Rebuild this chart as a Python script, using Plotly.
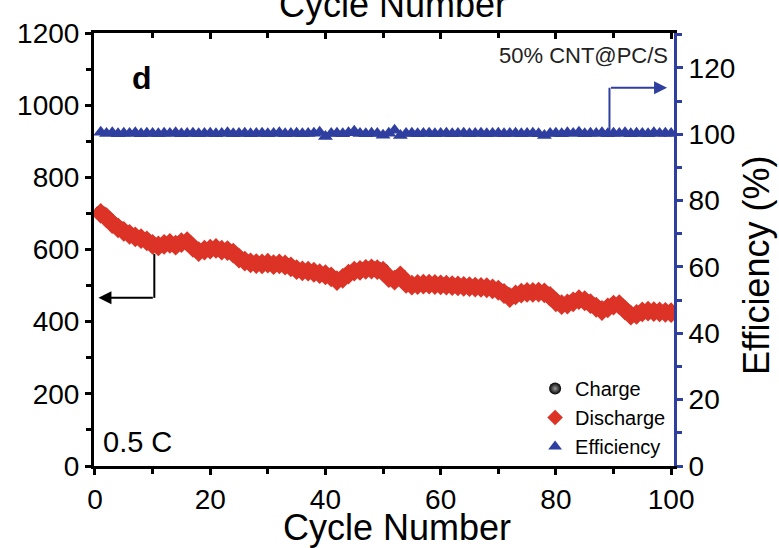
import plotly.graph_objects as go

cycles = list(range(1, 101))

discharge = [700, 688, 672, 660, 650, 642, 635, 630, 624, 614,
             610, 614, 617, 612, 619, 622, 606, 594, 598, 601,
             603, 598, 597, 590, 576, 568, 563, 561, 560, 562,
             558, 560, 557, 552, 544, 541, 540, 537, 533, 530,
             524, 514, 520, 532, 540, 542, 545, 546, 544, 540,
             522, 515, 527, 506, 501, 503, 504, 504, 503, 502,
             501, 500, 499, 498, 497, 496, 495, 494, 491, 487,
             478, 467, 474, 479, 481, 481, 482, 480, 470, 455,
             447, 449, 455, 461, 458, 450, 440, 431, 438, 446,
             447, 432, 418, 420, 427, 429, 428, 427, 426, 425]

charge = [704, 691, 675, 664, 653, 645, 638, 633, 627, 617,
          613, 617, 620, 615, 622, 625, 609, 597, 601, 604,
          606, 601, 600, 593, 579, 571, 566, 564, 563, 565,
          561, 563, 560, 555, 547, 544, 543, 540, 536, 533,
          527, 517, 523, 535, 543, 546, 549, 551, 549, 544,
          525, 518, 530, 509, 504, 506, 507, 507, 506, 505,
          504, 503, 502, 501, 500, 499, 498, 497, 494, 491,
          482, 470, 477, 482, 484, 484, 485, 483, 473, 458,
          450, 452, 458, 464, 461, 453, 443, 434, 441, 449,
          450, 435, 421, 423, 430, 432, 431, 430, 429, 428]

efficiency = [100.6, 100.2, 100.4, 100.1, 100.3, 100.2, 100.4, 100.1, 100.3, 100.2,
              100.1, 100.3, 100.2, 100.4, 100.1, 100.2, 100.3, 100.1, 100.2, 100.3,
              100.1, 100.2, 100.4, 100.1, 100.2, 100.3, 100.1, 100.2, 100.3, 100.1,
              100.2, 100.4, 100.1, 100.2, 100.3, 100.1, 100.2, 100.3, 100.6, 99.3,
              100.2, 100.3, 100.1, 100.4, 100.9, 100.2, 100.1, 100.3, 100.2, 99.7,
              100.3, 101.2, 99.6, 100.2, 100.3, 100.1, 100.2, 100.3, 100.1, 100.2,
              100.3, 100.1, 100.2, 100.3, 100.1, 100.2, 100.3, 100.1, 100.2, 100.3,
              100.1, 100.2, 100.3, 100.1, 100.2, 100.3, 100.1, 99.6, 100.2, 100.3,
              100.1, 100.4, 100.2, 100.6, 100.1, 100.3, 100.2, 100.4, 100.1, 100.3,
              100.2, 100.4, 100.1, 100.3, 100.2, 100.1, 100.4, 100.2, 100.3, 100.2]

x_ticks = [0, 20, 40, 60, 80, 100]
y_ticks = [0, 200, 400, 600, 800, 1000, 1200]
y2_ticks = [0, 20, 40, 60, 80, 100, 120]

RED = "#dc3326"
BLUE = "#2f3fa0"
FONT = "Liberation Sans, Arial, Helvetica, sans-serif"
XR = [-0.17, 100.5]

fig = go.Figure()
fig.add_trace(go.Scatter(
    x=cycles, y=charge, mode="markers", name="Charge",
    marker=dict(symbol="circle", size=13, color="black",
                gradient=dict(type="radial", color="#9a9a9a"),
                line=dict(width=0))))
fig.add_trace(go.Scatter(
    x=cycles, y=discharge, mode="markers", name="Discharge",
    marker=dict(symbol="diamond", size=16, color=RED, line=dict(width=0))))
fig.add_trace(go.Scatter(
    x=cycles, y=efficiency, mode="markers", name="Efficiency", yaxis="y2",
    marker=dict(symbol="triangle-up", size=13, color=BLUE, line=dict(width=0))))
# invisible trace to draw the top axis
fig.add_trace(go.Scatter(x=[None], y=[None], xaxis="x2", showlegend=False,
                         hoverinfo="skip"))

# arrows
fig.add_shape(type="line", xref="x", yref="y", x0=10.3, x1=10.3, y0=588, y1=466,
              line=dict(color="black", width=2))
fig.add_annotation(xref="x", yref="y", axref="x", ayref="y", x=0.6, y=466,
                   ax=10.3, ay=466, showarrow=True, arrowhead=2, arrowsize=1.3,
                   arrowwidth=2, arrowcolor="black", text="")
fig.add_shape(type="line", xref="x", yref="y2", x0=89.3, x1=89.3, y0=101, y1=114,
              line=dict(color=BLUE, width=2))
fig.add_annotation(xref="x", yref="y2", axref="x", ayref="y2", x=99.3, y=114,
                   ax=89.3, ay=114, showarrow=True, arrowhead=2, arrowsize=1.3,
                   arrowwidth=2, arrowcolor=BLUE, text="")

# text labels
fig.add_annotation(xref="paper", yref="paper", x=0.062, y=0.896, yanchor="middle",
                   text="<b>d</b>", showarrow=False,
                   font=dict(size=32, color="black", family=FONT))
fig.add_annotation(xref="paper", yref="paper", x=0.012, y=0.055, xanchor="left",
                   yanchor="middle", text="0.5 C", showarrow=False,
                   font=dict(size=29, color="black", family=FONT))
fig.add_annotation(xref="paper", yref="paper", x=0.993, y=0.947, xanchor="right",
                   yanchor="middle", text="50% CNT@PC/S", showarrow=False,
                   font=dict(size=22, color="#222", family=FONT))
# axis titles
fig.add_annotation(xref="paper", yref="paper", x=0.522, y=-0.142, yanchor="middle",
                   text="Cycle Number", showarrow=False,
                   font=dict(size=36, color="black", family=FONT))
fig.add_annotation(xref="paper", yref="paper", x=1.18, y=0.464, textangle=-90,
                   text="Efficiency (%)", showarrow=False,
                   font=dict(size=36, color="black", family=FONT))
# cut-off title of the panel above
fig.add_annotation(xref="paper", yref="paper", x=0.515, y=1.066, yanchor="middle",
                   text="Cycle Number", showarrow=False,
                   font=dict(size=36, color="black", family=FONT))

axis_common = dict(showgrid=False, zeroline=False, linewidth=3, ticklen=6,
                   tickwidth=2.5, automargin=False,
                   tickfont=dict(size=28, color="black", family=FONT))

fig.update_layout(
    width=779, height=548,
    margin=dict(l=94, r=105, t=33, b=82, autoexpand=False),
    paper_bgcolor="white", plot_bgcolor="white",
    font=dict(family=FONT, color="black"),
    xaxis=dict(range=XR, tickvals=x_ticks, ticks="outside", linecolor="black",
               tickcolor="black",
               minor=dict(ticks="outside", dtick=10, tick0=0, ticklen=5,
                          tickwidth=2.5, tickcolor="black"),
               **axis_common),
    xaxis2=dict(range=XR, overlaying="x", side="top", anchor="y",
                showticklabels=False, tickvals=x_ticks, ticks="inside",
                linecolor="black", tickcolor="black",
                minor=dict(ticks="inside", dtick=10, tick0=0, ticklen=5,
                           tickwidth=2.5, tickcolor="black"),
                **axis_common),
    yaxis=dict(range=[0, 1200], tickvals=y_ticks, ticks="outside",
               linecolor="black", tickcolor="black",
               minor=dict(ticks="outside", dtick=100, tick0=0, ticklen=5,
                          tickwidth=2.5, tickcolor="black"),
               **axis_common),
    yaxis2=dict(range=[0, 130.5], overlaying="y", side="right", anchor="x",
                tickvals=y2_ticks, ticks="outside", linecolor=BLUE, tickcolor=BLUE,
                minor=dict(ticks="outside", dtick=10, tick0=0, ticklen=5,
                           tickwidth=2.5, tickcolor=BLUE),
                **axis_common),
    legend=dict(x=0.995, y=0.0, xanchor="right", yanchor="bottom",
                bgcolor="rgba(0,0,0,0)", font=dict(size=20, family=FONT),
                tracegroupgap=0, itemsizing="constant"),
    showlegend=True,
)

fig.write_html("out.html", config={"displayModeBar": False},
               post_script="document.body.style.margin='0';document.body.style.overflow='hidden';")
